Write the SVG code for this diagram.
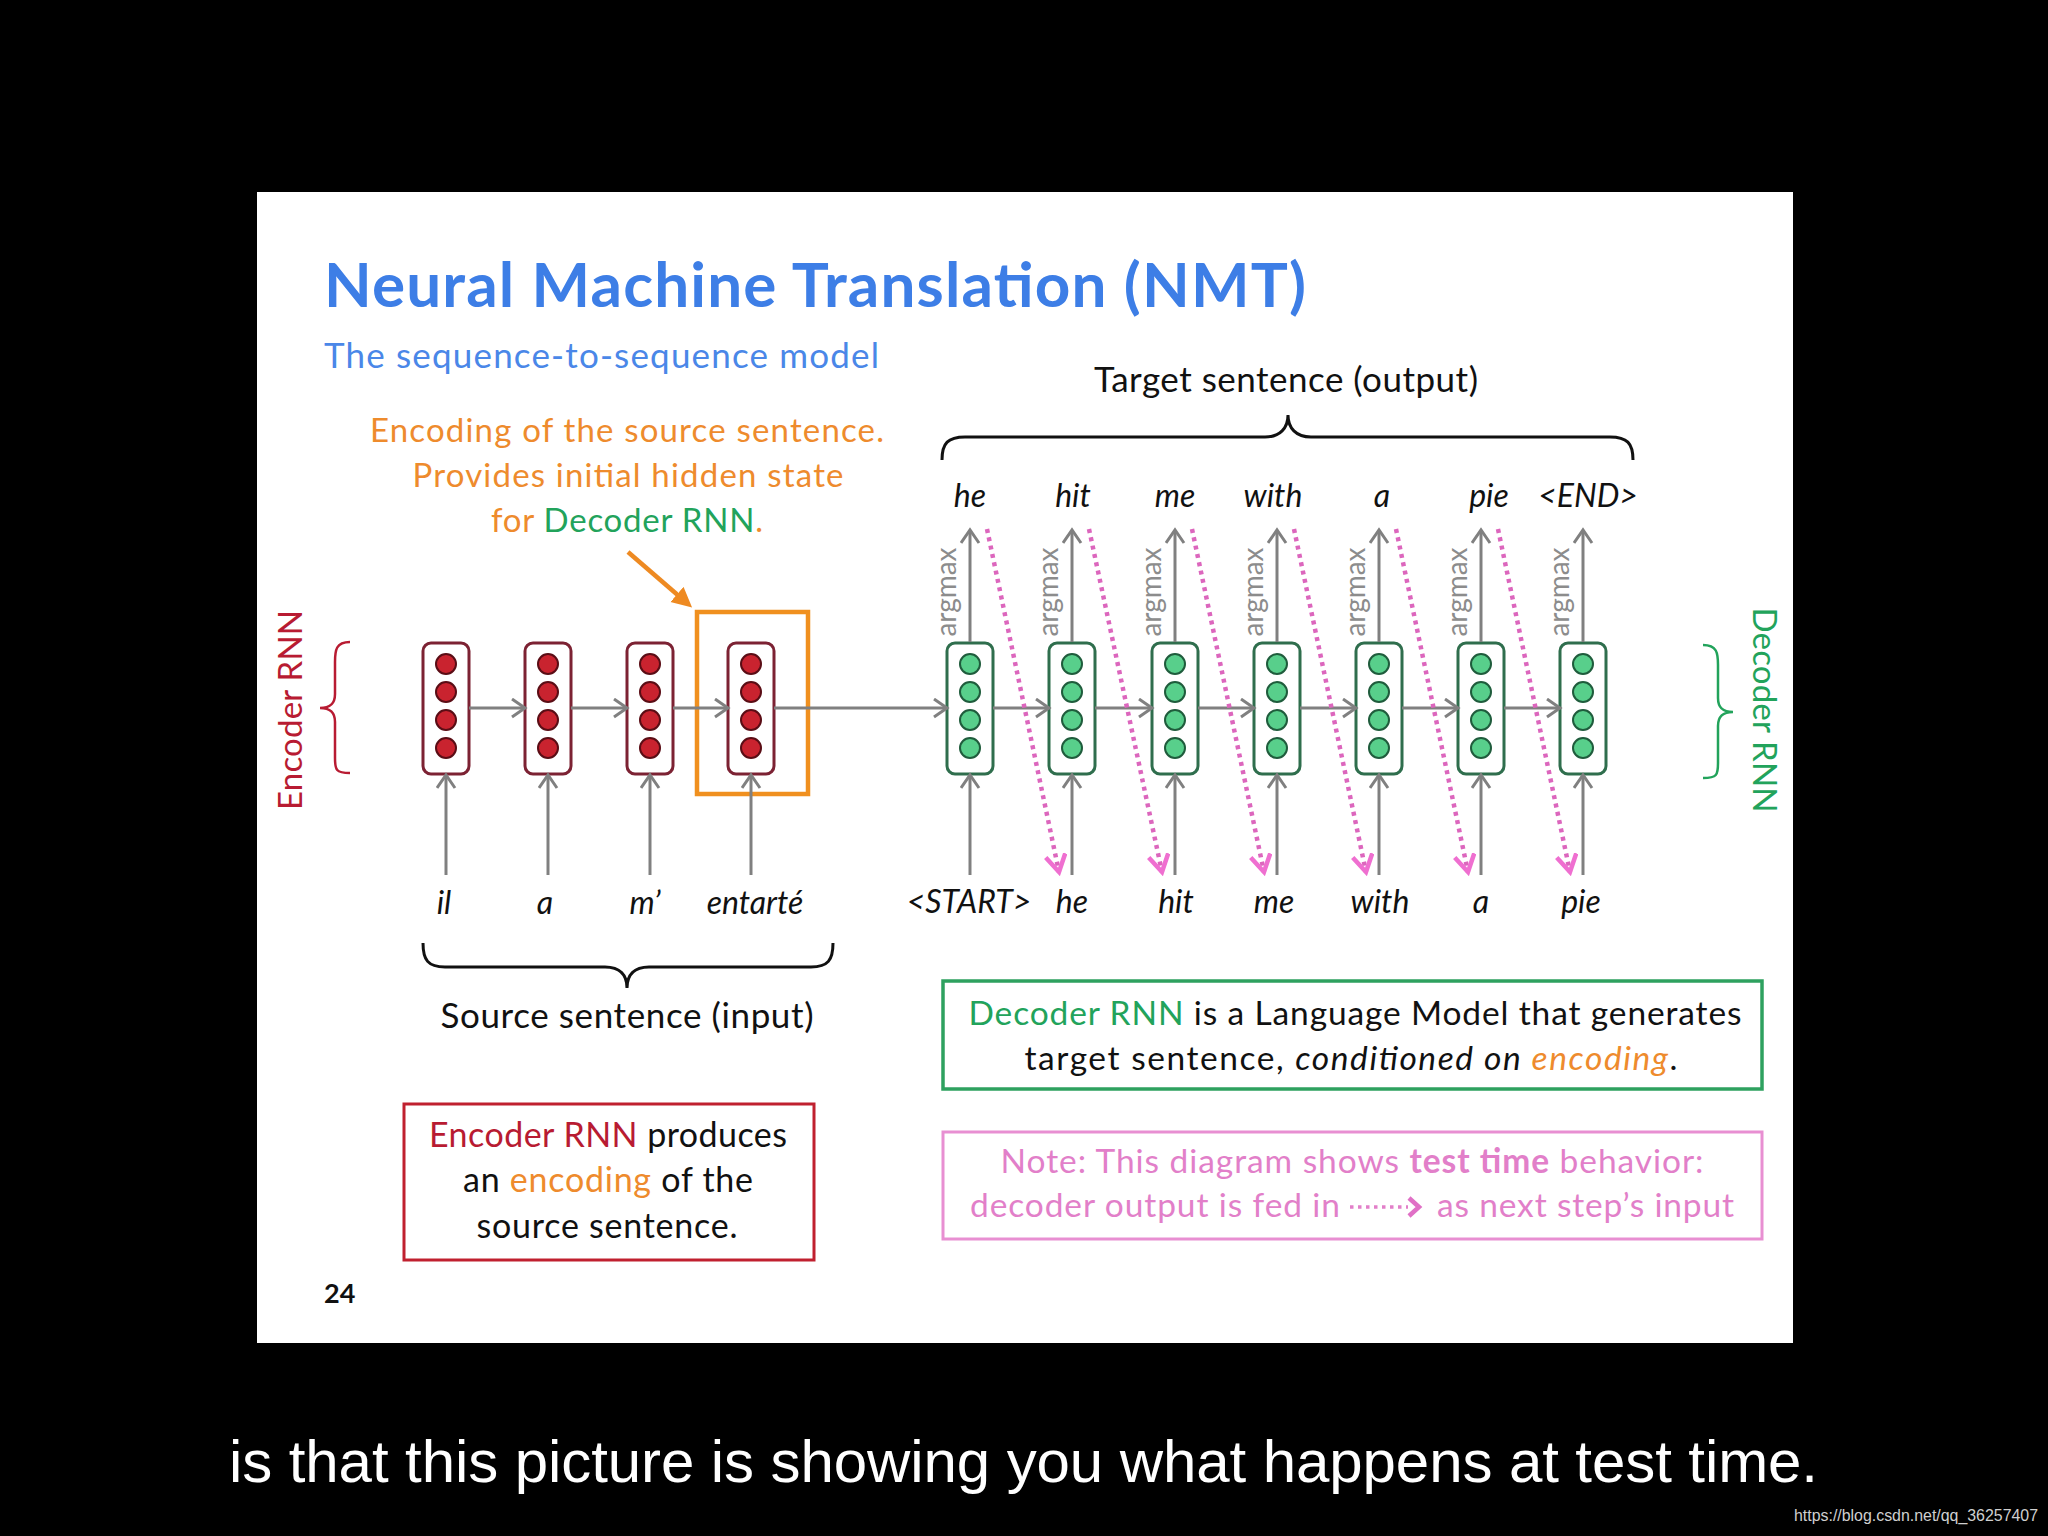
<svg xmlns="http://www.w3.org/2000/svg" width="2048" height="1536" viewBox="0 0 2048 1536">
<style>
.cal{font-family:Lato,"Liberation Sans",sans-serif}
.encCell{fill:#fff;stroke:#7c2233;stroke-width:3}
.encDot{fill:#c9232f;stroke:#5a0d15;stroke-width:2}
.decCell{fill:#fff;stroke:#2f6e4d;stroke-width:3}
.decDot{fill:#58cf8b;stroke:#1f5c3c;stroke-width:2}
.gArrow{stroke:#808080;stroke-width:3;fill:none;marker-end:url(#gh)}
.pArrow{stroke:#dc66bd;stroke-width:4.5;stroke-dasharray:4 4.5;fill:none;marker-end:url(#ph)}
.word{font-family:Lato,"Liberation Sans",sans-serif;font-style:italic;font-size:32px;fill:#111;text-anchor:middle}
.argmax{font-family:Lato,"Liberation Sans",sans-serif;font-size:28px;fill:#8c8c8c;text-anchor:middle}
.blk{font-family:Lato,"Liberation Sans",sans-serif;fill:#111;text-anchor:middle}
</style>
<defs>
<marker id="gh" markerUnits="userSpaceOnUse" markerWidth="18" markerHeight="22" refX="14" refY="10" orient="auto">
<path d="M1,1 L14,10 L1,19" fill="none" stroke="#808080" stroke-width="3"/>
</marker>
<marker id="ph" markerUnits="userSpaceOnUse" markerWidth="22" markerHeight="24" refX="18" refY="11" orient="auto">
<path d="M1,1 L18,11 L1,21" fill="none" stroke="#ef6fd0" stroke-width="4.5"/>
</marker>
<marker id="oh" markerUnits="userSpaceOnUse" markerWidth="24" markerHeight="24" refX="4" refY="10" orient="auto">
<path d="M0,0 L20,10 L0,20 z" fill="#ee8a22"/>
</marker>
</defs>
<rect x="0" y="0" width="2048" height="1536" fill="#000"/>
<rect x="257" y="192" width="1536" height="1151" fill="#fff"/>

<g id="title">
<text class="cal" x="324" y="307" font-size="62" font-weight="bold" fill="#3d7ee6" textLength="982">Neural Machine Translation (NMT)</text>
<text class="cal" x="324" y="368" font-size="35" fill="#4a87e8" textLength="555">The sequence-to-sequence model</text>
</g>

<g id="encoding-note" class="cal" font-size="33" text-anchor="middle" fill="#ee8b2d">
<text x="627" y="442" textLength="514">Encoding of the source sentence.</text>
<text x="628" y="487" textLength="431">Provides initial hidden state</text>
<text x="627" y="532" textLength="272"><tspan>for </tspan><tspan fill="#22a35b">Decoder RNN</tspan><tspan>.</tspan></text>
</g>

<g id="encoder-label">
<text class="cal" transform="translate(302,710) rotate(-90)" font-size="33" fill="#b81b32" text-anchor="middle" textLength="200">Encoder RNN</text>
<path d="M350,642 C336,642 335,650 335,662 L335,694 C335,704 330,708 320,708 C330,708 335,712 335,722 L335,758 C335,770 336,773 350,773" fill="none" stroke="#b81b32" stroke-width="2.5"/>
</g>

<g id="decoder-label">
<text class="cal" transform="translate(1753,710) rotate(90)" font-size="33" fill="#22a35b" text-anchor="middle" textLength="205">Decoder RNN</text>
<path d="M1703,645 C1717,645 1718,653 1718,665 L1718,698 C1718,708 1723,712 1733,712 C1723,712 1718,716 1718,726 L1718,763 C1718,775 1717,778 1703,778" fill="none" stroke="#22a35b" stroke-width="2.5"/>
</g>

<g id="enc1"><rect class="encCell" x="423" y="643" width="46" height="131" rx="8"/><circle class="encDot" cx="446" cy="664" r="10"/><circle class="encDot" cx="446" cy="692" r="10"/><circle class="encDot" cx="446" cy="720" r="10"/><circle class="encDot" cx="446" cy="748" r="10"/></g>
<g id="enc2"><rect class="encCell" x="525" y="643" width="46" height="131" rx="8"/><circle class="encDot" cx="548" cy="664" r="10"/><circle class="encDot" cx="548" cy="692" r="10"/><circle class="encDot" cx="548" cy="720" r="10"/><circle class="encDot" cx="548" cy="748" r="10"/></g>
<g id="enc3"><rect class="encCell" x="627" y="643" width="46" height="131" rx="8"/><circle class="encDot" cx="650" cy="664" r="10"/><circle class="encDot" cx="650" cy="692" r="10"/><circle class="encDot" cx="650" cy="720" r="10"/><circle class="encDot" cx="650" cy="748" r="10"/></g>
<g id="enc4"><rect class="encCell" x="728" y="643" width="46" height="131" rx="8"/><circle class="encDot" cx="751" cy="664" r="10"/><circle class="encDot" cx="751" cy="692" r="10"/><circle class="encDot" cx="751" cy="720" r="10"/><circle class="encDot" cx="751" cy="748" r="10"/></g>

<g id="dec1"><rect class="decCell" x="947" y="643" width="46" height="131" rx="8"/><circle class="decDot" cx="970" cy="664" r="10"/><circle class="decDot" cx="970" cy="692" r="10"/><circle class="decDot" cx="970" cy="720" r="10"/><circle class="decDot" cx="970" cy="748" r="10"/></g>
<g id="dec2"><rect class="decCell" x="1049" y="643" width="46" height="131" rx="8"/><circle class="decDot" cx="1072" cy="664" r="10"/><circle class="decDot" cx="1072" cy="692" r="10"/><circle class="decDot" cx="1072" cy="720" r="10"/><circle class="decDot" cx="1072" cy="748" r="10"/></g>
<g id="dec3"><rect class="decCell" x="1152" y="643" width="46" height="131" rx="8"/><circle class="decDot" cx="1175" cy="664" r="10"/><circle class="decDot" cx="1175" cy="692" r="10"/><circle class="decDot" cx="1175" cy="720" r="10"/><circle class="decDot" cx="1175" cy="748" r="10"/></g>
<g id="dec4"><rect class="decCell" x="1254" y="643" width="46" height="131" rx="8"/><circle class="decDot" cx="1277" cy="664" r="10"/><circle class="decDot" cx="1277" cy="692" r="10"/><circle class="decDot" cx="1277" cy="720" r="10"/><circle class="decDot" cx="1277" cy="748" r="10"/></g>
<g id="dec5"><rect class="decCell" x="1356" y="643" width="46" height="131" rx="8"/><circle class="decDot" cx="1379" cy="664" r="10"/><circle class="decDot" cx="1379" cy="692" r="10"/><circle class="decDot" cx="1379" cy="720" r="10"/><circle class="decDot" cx="1379" cy="748" r="10"/></g>
<g id="dec6"><rect class="decCell" x="1458" y="643" width="46" height="131" rx="8"/><circle class="decDot" cx="1481" cy="664" r="10"/><circle class="decDot" cx="1481" cy="692" r="10"/><circle class="decDot" cx="1481" cy="720" r="10"/><circle class="decDot" cx="1481" cy="748" r="10"/></g>
<g id="dec7"><rect class="decCell" x="1560" y="643" width="46" height="131" rx="8"/><circle class="decDot" cx="1583" cy="664" r="10"/><circle class="decDot" cx="1583" cy="692" r="10"/><circle class="decDot" cx="1583" cy="720" r="10"/><circle class="decDot" cx="1583" cy="748" r="10"/></g>

<g id="encoding-box">
<rect x="697" y="612" width="111" height="182" fill="none" stroke="#f0901f" stroke-width="4.5"/>
</g>

<g id="connectors">
<line class="gArrow" x1="469" y1="708" x2="525" y2="708"/>
<line class="gArrow" x1="571" y1="708" x2="627" y2="708"/>
<line class="gArrow" x1="673" y1="708" x2="728" y2="708"/>
<line class="gArrow" x1="774" y1="708" x2="947" y2="708"/>
<line class="gArrow" x1="993" y1="708" x2="1049" y2="708"/>
<line class="gArrow" x1="1095" y1="708" x2="1152" y2="708"/>
<line class="gArrow" x1="1198" y1="708" x2="1254" y2="708"/>
<line class="gArrow" x1="1300" y1="708" x2="1356" y2="708"/>
<line class="gArrow" x1="1402" y1="708" x2="1458" y2="708"/>
<line class="gArrow" x1="1504" y1="708" x2="1560" y2="708"/>
<line class="gArrow" x1="446" y1="875" x2="446" y2="775"/>
<line class="gArrow" x1="548" y1="875" x2="548" y2="775"/>
<line class="gArrow" x1="650" y1="875" x2="650" y2="775"/>
<line class="gArrow" x1="751" y1="875" x2="751" y2="775"/>
<line class="gArrow" x1="970" y1="875" x2="970" y2="775"/>
<line class="gArrow" x1="1072" y1="875" x2="1072" y2="775"/>
<line class="gArrow" x1="1175" y1="875" x2="1175" y2="775"/>
<line class="gArrow" x1="1277" y1="875" x2="1277" y2="775"/>
<line class="gArrow" x1="1379" y1="875" x2="1379" y2="775"/>
<line class="gArrow" x1="1481" y1="875" x2="1481" y2="775"/>
<line class="gArrow" x1="1583" y1="875" x2="1583" y2="775"/>
<line class="gArrow" x1="970" y1="642" x2="970" y2="530"/>
<line class="gArrow" x1="1072" y1="642" x2="1072" y2="530"/>
<line class="gArrow" x1="1175" y1="642" x2="1175" y2="530"/>
<line class="gArrow" x1="1277" y1="642" x2="1277" y2="530"/>
<line class="gArrow" x1="1379" y1="642" x2="1379" y2="530"/>
<line class="gArrow" x1="1481" y1="642" x2="1481" y2="530"/>
<line class="gArrow" x1="1583" y1="642" x2="1583" y2="530"/>
<line class="pArrow" x1="987" y1="529" x2="1059" y2="872"/>
<line class="pArrow" x1="1089" y1="529" x2="1162" y2="872"/>
<line class="pArrow" x1="1192" y1="529" x2="1264" y2="872"/>
<line class="pArrow" x1="1294" y1="529" x2="1366" y2="872"/>
<line class="pArrow" x1="1396" y1="529" x2="1468" y2="872"/>
<line class="pArrow" x1="1498" y1="529" x2="1570" y2="872"/>
<line x1="628" y1="552" x2="680" y2="597" stroke="#ee8a22" stroke-width="4.5" marker-end="url(#oh)"/>
</g>

<g id="argmax-labels">
<text class="argmax" transform="translate(956,592) rotate(-90)" textLength="89">argmax</text>
<text class="argmax" transform="translate(1058,592) rotate(-90)" textLength="89">argmax</text>
<text class="argmax" transform="translate(1161,592) rotate(-90)" textLength="89">argmax</text>
<text class="argmax" transform="translate(1263,592) rotate(-90)" textLength="89">argmax</text>
<text class="argmax" transform="translate(1365,592) rotate(-90)" textLength="89">argmax</text>
<text class="argmax" transform="translate(1467,592) rotate(-90)" textLength="89">argmax</text>
<text class="argmax" transform="translate(1569,592) rotate(-90)" textLength="89">argmax</text>
</g>

<g id="output-words">
<text class="word" x="970" y="507">he</text>
<text class="word" x="1073" y="507">hit</text>
<text class="word" x="1175" y="507">me</text>
<text class="word" x="1273" y="507">with</text>
<text class="word" x="1382" y="507">a</text>
<text class="word" x="1489" y="507">pie</text>
<text class="word" x="1588" y="507">&lt;END&gt;</text>
</g>

<g id="input-words">
<text class="word" x="444" y="914">il</text>
<text class="word" x="545" y="914">a</text>
<text class="word" x="645" y="914">m’</text>
<text class="word" x="755" y="914">entarté</text>
<text class="word" x="969" y="913">&lt;START&gt;</text>
<text class="word" x="1072" y="913">he</text>
<text class="word" x="1176" y="913">hit</text>
<text class="word" x="1274" y="913">me</text>
<text class="word" x="1380" y="913">with</text>
<text class="word" x="1481" y="913">a</text>
<text class="word" x="1581" y="913">pie</text>
</g>

<g id="target-brace">
<path d="M942,460 C942,443 948,437 965,437 L1265,437 C1280,437 1288,428 1288,415 C1288,428 1296,437 1311,437 L1610,437 C1627,437 1633,443 1633,460" fill="none" stroke="#111" stroke-width="3"/>
<text class="blk" x="1286" y="392" font-size="35" textLength="384">Target sentence (output)</text>
</g>

<g id="source-brace">
<path d="M423,943 C423,960 428,967 445,967 L605,967 C620,967 627,975 627,988 C627,975 634,967 649,967 L811,967 C828,967 833,960 833,943" fill="none" stroke="#111" stroke-width="3"/>
<text class="blk" x="627" y="1028" font-size="35" textLength="373">Source sentence (input)</text>
</g>

<g id="encoder-box">
<rect x="404" y="1104" width="410" height="156" fill="#fff" stroke="#c0202f" stroke-width="3"/>
<text class="blk" x="608" y="1147" font-size="34" textLength="358"><tspan fill="#b81b32">Encoder RNN</tspan> produces</text>
<text class="blk" x="608" y="1192" font-size="34" textLength="290">an <tspan fill="#ee8b2d">encoding</tspan> of the</text>
<text class="blk" x="607" y="1238" font-size="34" textLength="261">source sentence.</text>
</g>

<g id="decoder-box">
<rect x="943" y="981" width="819" height="108" fill="#fff" stroke="#2ea15f" stroke-width="3.5"/>
<text class="blk" x="1355" y="1025" font-size="33.5" textLength="773"><tspan fill="#22a35b">Decoder RNN</tspan> is a Language Model that generates</text>
<text class="blk" x="1351" y="1070" font-size="33.5" textLength="653">target sentence, <tspan font-style="italic">conditioned on </tspan><tspan font-style="italic" fill="#ee8b2d">encoding</tspan>.</text>
</g>

<g id="note-box">
<rect x="943" y="1132" width="819" height="107" fill="#fff" stroke="#e88fd2" stroke-width="3"/>
<text class="cal" x="1352" y="1173" font-size="33.5" fill="#e27fc9" text-anchor="middle" textLength="703">Note: This diagram shows <tspan font-weight="bold">test time</tspan> behavior:</text>
<text class="cal" x="970" y="1217" font-size="33.5" fill="#e27fc9" textLength="370">decoder output is fed in</text>
<line x1="1350" y1="1207" x2="1408" y2="1207" stroke="#e27fc9" stroke-width="3.5" stroke-dasharray="3.5 4.5"/>
<path d="M1409,1198 L1419,1207 L1409,1216" fill="none" stroke="#e070c6" stroke-width="4.5"/>
<text class="cal" x="1437" y="1217" font-size="33.5" fill="#e27fc9" textLength="297">as next step’s input</text>
</g>

<g id="page-number">
<text class="cal" x="324" y="1303" font-size="27" font-weight="bold" fill="#111">24</text>
</g>

<g id="caption">
<text x="229" y="1482" font-family="'Liberation Sans',Arial,sans-serif" font-size="60" fill="#fff" textLength="1589">is that this picture is showing you what happens at test time.</text>
<text x="1794" y="1521" font-family="'Liberation Sans',Arial,sans-serif" font-size="16" fill="#cfcfcf" textLength="244" lengthAdjust="spacingAndGlyphs">https://blog.csdn.net/qq_36257407</text>
</g>
</svg>
